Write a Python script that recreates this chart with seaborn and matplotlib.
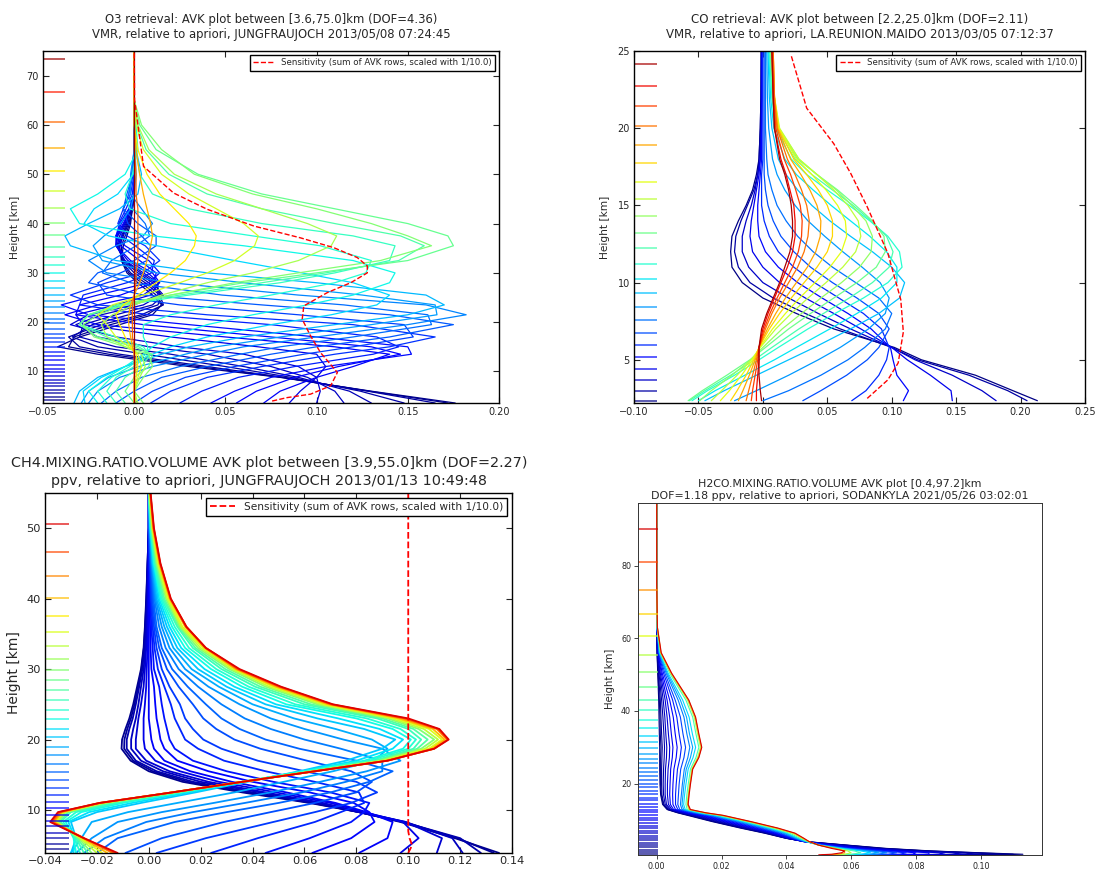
import matplotlib
matplotlib.use("Agg")
import matplotlib.pyplot as plt
import pandas as pd
import seaborn as sns

# ---------------- O3 (Jungfraujoch) ----------------
o3_levels = [4.2, 4.9, 5.6, 6.3, 7.0, 7.6, 8.3, 9.0, 9.8, 10.6, 11.4, 12.3, 13.2, 14.0,
             14.9, 15.9, 16.8, 17.7, 18.7, 19.8, 20.7, 21.9, 23.0, 24.3, 25.6, 26.9,
             28.3, 29.9, 31.6, 33.3, 35.3, 37.6, 40.1, 43.2, 46.7, 50.7, 55.3, 60.6,
             66.6, 73.3]
o3_grid = [3.6, 6, 8.8, 11, 13.5, 15, 17, 19.5, 21.5, 23.5, 25.5, 28, 30, 32.5,
           35.5, 37.5, 40, 43, 46, 50, 55, 60, 65, 75]
o3_row_levels = [4.2, 4.9, 5.6, 6.3, 7.0, 8.0, 9.0, 10.2, 11.4, 12.3, 13.2, 14.5, 15.9,
                 17.2, 18.7, 20.3, 21.9, 23.6, 25.6, 27.6, 29.9, 31.6, 33.3, 35.3, 37.6,
                 40.1, 43.2, 46.7, 50.7, 55.3, 60.6, 73.3]
o3_rows = [
    [0.176, 0.130, 0.080, 0.030, -0.020, -0.042, -0.030, -0.008, 0.010, 0.015, 0.010, 0.002, -0.004, -0.007, -0.006, -0.004, -0.002, -0.001, 0, 0, 0, 0, 0, 0],
    [0.172, 0.129, 0.081, 0.035, -0.014, -0.036, -0.033, -0.013, 0.007, 0.0155, 0.012, 0.004, -0.003, -0.007, -0.007, -0.005, -0.0025, -0.001, 0, 0, 0, 0, 0, 0],
    [0.165, 0.128, 0.082, 0.040, -0.008, -0.030, -0.036, -0.018, 0.004, 0.016, 0.014, 0.006, -0.002, -0.007, -0.008, -0.006, -0.003, -0.001, 0, 0, 0, 0, 0, 0],
    [0.148, 0.124, 0.086, 0.050, 0.006, -0.020, -0.034, -0.023, -0.003, 0.013, 0.015, 0.008, 0.0, -0.0065, -0.0085, -0.0065, -0.0035, -0.0015, 0, 0, 0, 0, 0, 0],
    [0.130, 0.118, 0.090, 0.060, 0.020, -0.010, -0.030, -0.028, -0.010, 0.010, 0.016, 0.010, 0.002, -0.006, -0.009, -0.007, -0.004, -0.002, 0, 0, 0, 0, 0, 0],
    [0.115, 0.110, 0.095, 0.075, 0.040, 0.008, -0.020, -0.032, -0.018, 0.005, 0.0145, 0.0115, 0.0035, -0.0055, -0.0095, -0.008, -0.0045, -0.002, 0, 0, 0, 0, 0, 0],
    [0.100, 0.102, 0.100, 0.090, 0.060, 0.025, -0.010, -0.035, -0.025, 0.000, 0.013, 0.013, 0.005, -0.005, -0.010, -0.009, -0.005, -0.002, 0, 0, 0, 0, 0, 0],
    [0.085, 0.091, 0.100, 0.105, 0.100, 0.068, 0.020, -0.028, -0.032, -0.010, 0.009, 0.0135, 0.0075, -0.0035, -0.010, -0.0095, -0.0055, -0.002, 0, 0, 0, 0, 0, 0],
    [0.071, 0.080, 0.100, 0.120, 0.140, 0.110, 0.050, -0.020, -0.038, -0.020, 0.005, 0.014, 0.010, -0.002, -0.010, -0.010, -0.006, -0.002, 0, 0, 0, 0, 0, 0],
    [0.056, 0.067, 0.088, 0.112, 0.146, 0.130, 0.075, 0.005, -0.032, -0.030, -0.0075, 0.011, 0.012, 0.003, -0.0075, -0.010, -0.007, -0.0025, 0, 0, 0, 0, 0, 0],
    [0.042, 0.055, 0.075, 0.105, 0.152, 0.150, 0.100, 0.030, -0.025, -0.040, -0.020, 0.008, 0.014, 0.008, -0.005, -0.010, -0.008, -0.003, 0, 0, 0, 0, 0, 0],
    [0.025, 0.037, 0.057, 0.088, 0.131, 0.145, 0.133, 0.075, 0.008, -0.030, -0.028, -0.004, 0.0095, 0.011, 0.0005, -0.007, -0.0085, -0.0045, -0.001, 0, 0, 0, 0, 0],
    [0.009, 0.020, 0.040, 0.070, 0.110, 0.140, 0.165, 0.120, 0.040, -0.020, -0.035, -0.015, 0.005, 0.014, 0.006, -0.004, -0.009, -0.006, -0.002, 0, 0, 0, 0, 0],
    [0.000, 0.010, 0.028, 0.055, 0.093, 0.120, 0.153, 0.148, 0.090, 0.025, -0.015, -0.020, -0.0075, 0.007, 0.009, 0.004, -0.0035, -0.006, -0.003, -0.0005, 0, 0, 0, 0],
    [-0.010, 0.000, 0.015, 0.040, 0.075, 0.100, 0.140, 0.175, 0.140, 0.070, 0.005, -0.025, -0.020, 0.000, 0.012, 0.012, 0.002, -0.006, -0.004, -0.001, 0, 0, 0, 0],
    [-0.018, -0.010, 0.004, 0.025, 0.058, 0.080, 0.120, 0.163, 0.161, 0.115, 0.048, -0.002, -0.0175, -0.0125, 0.001, 0.0085, 0.006, -0.001, -0.003, -0.0015, 0, 0, 0, 0],
    [-0.025, -0.020, -0.008, 0.010, 0.040, 0.060, 0.100, 0.150, 0.182, 0.160, 0.090, 0.020, -0.015, -0.025, -0.010, 0.005, 0.010, 0.004, -0.002, -0.002, 0, 0, 0, 0],
    [-0.029, -0.025, -0.014, 0.0025, 0.028, 0.045, 0.080, 0.130, 0.166, 0.165, 0.125, 0.060, 0.0125, -0.0175, -0.0225, -0.0165, -0.0075, -0.002, 0.0, 0.001, 0.0005, 0, 0, 0],
    [-0.033, -0.030, -0.020, -0.005, 0.015, 0.030, 0.060, 0.110, 0.150, 0.170, 0.160, 0.100, 0.040, -0.010, -0.035, -0.038, -0.025, -0.008, 0.002, 0.004, 0.001, 0, 0, 0],
    [-0.027, -0.028, -0.018, -0.005, 0.010, 0.020, 0.040, 0.075, 0.108, 0.133, 0.140, 0.120, 0.092, 0.055, 0.0125, -0.014, -0.0275, -0.022, -0.009, -0.0005, 0.0015, 0.0005, 0, 0],
    [-0.020, -0.025, -0.015, -0.005, 0.005, 0.010, 0.020, 0.040, 0.065, 0.095, 0.120, 0.140, 0.143, 0.120, 0.060, 0.010, -0.030, -0.035, -0.020, -0.005, 0.002, 0.001, 0, 0],
    [-0.015, -0.020, -0.0125, -0.0025, 0.0065, 0.0075, 0.005, 0.005, 0.020, 0.045, 0.075, 0.110, 0.127, 0.130, 0.102, 0.065, 0.020, -0.0025, -0.005, -0.001, 0.0015, 0.0005, 0, 0],
    [-0.010, -0.015, -0.010, 0.000, 0.008, 0.005, -0.010, -0.030, -0.025, -0.005, 0.030, 0.080, 0.110, 0.140, 0.143, 0.120, 0.070, 0.030, 0.010, 0.003, 0.001, 0, 0, 0],
    [-0.005, -0.010, -0.005, 0.004, 0.009, 0.0025, -0.015, -0.030, -0.025, -0.0075, 0.025, 0.070, 0.105, 0.145, 0.159, 0.146, 0.110, 0.070, 0.040, 0.019, 0.0065, 0.0015, 0, 0],
    [0.000, -0.005, 0.000, 0.008, 0.010, 0.000, -0.020, -0.030, -0.025, -0.010, 0.020, 0.060, 0.100, 0.150, 0.175, 0.172, 0.150, 0.110, 0.070, 0.035, 0.012, 0.003, 0, 0],
    [0.005, 0.000, 0.005, 0.010, 0.008, -0.005, -0.022, -0.028, -0.020, -0.005, 0.020, 0.055, 0.090, 0.135, 0.163, 0.150, 0.130, 0.100, 0.065, 0.033, 0.015, 0.004, 0, 0],
    [0.002, 0.000, 0.003, 0.006, 0.004, -0.005, -0.015, -0.018, -0.012, 0.000, 0.015, 0.040, 0.065, 0.090, 0.108, 0.111, 0.095, 0.070, 0.045, 0.022, 0.008, 0.002, 0, 0],
    [0.001, 0.000, 0.002, 0.004, 0.002, -0.003, -0.010, -0.015, -0.020, -0.012, 0.005, 0.025, 0.040, 0.055, 0.066, 0.068, 0.060, 0.045, 0.030, 0.015, 0.005, 0.001, 0, 0],
    [0, 0, 0.001, 0.002, 0.001, -0.002, -0.005, -0.008, -0.010, -0.006, 0.002, 0.012, 0.020, 0.028, 0.033, 0.034, 0.030, 0.022, 0.014, 0.007, 0.002, 0, 0, 0],
    [0, 0, 0, 0.001, 0, -0.001, -0.002, -0.003, -0.003, -0.002, 0, 0.003, 0.005, 0.007, 0.009, 0.010, 0.009, 0.007, 0.005, 0.003, 0.001, 0, 0, 0],
    [0, 0, 0, 0, 0, 0, -0.001, -0.001, -0.001, -0.001, 0, 0.001, 0.001, 0.002, 0.002, 0.002, 0.002, 0.002, 0.001, 0.001, 0, 0, 0, 0],
    [0] * 24,
]
o3_sens_h = [4.0, 4.7, 5.4, 7.1, 9.8, 13.8, 17.2, 20.6, 23.3, 26.0, 28.0, 30.0, 31.4,
             33.1, 35.1, 37.1, 39.5, 42.9, 46.2, 51.6, 65.1, 75.0]
o3_sens_x = [0.0756, 0.0839, 0.0967, 0.1077, 0.1114, 0.1022, 0.0967, 0.0921, 0.093,
             0.1059, 0.1187, 0.1278, 0.1278, 0.1223, 0.1095, 0.0912, 0.0656, 0.040,
             0.0216, 0.0051, 0.0002, 0.0]

# ---------------- CO (La Reunion Maido) ----------------
co_levels = [2.35, 2.98, 3.71, 4.38, 5.20, 5.98, 6.75, 7.57, 8.45, 9.34, 10.26, 11.21,
             12.23, 13.24, 14.30, 15.39, 16.53, 17.72, 18.92, 20.15, 21.43, 22.76, 24.14]
co_grid = [2.35, 3, 4, 5, 5.8, 7, 8, 9, 10, 11, 12, 13, 14, 15, 16, 17, 18, 20, 22, 25]
co_row_levels = co_levels
co_rows = [
    [0.213, 0.194, 0.165, 0.123, 0.102, 0.055, 0.026, 0.000, -0.016, -0.024, -0.025, -0.024, -0.019, -0.013, -0.008, -0.005, -0.003, -0.002, -0.0015, -0.0013],
    [0.205, 0.190, 0.160, 0.120, 0.100, 0.060, 0.033, 0.008, -0.010, -0.019, -0.022, -0.021, -0.017, -0.012, -0.007, -0.004, -0.003, -0.002, -0.0015, -0.0013],
    [0.181, 0.170, 0.147, 0.118, 0.100, 0.068, 0.043, 0.020, 0.000, -0.011, -0.016, -0.016, -0.013, -0.009, -0.006, -0.004, -0.002, -0.0015, -0.001, -0.001],
    [0.147, 0.146, 0.130, 0.112, 0.100, 0.076, 0.055, 0.033, 0.013, 0.000, -0.008, -0.010, -0.009, -0.007, -0.005, -0.003, -0.002, -0.001, -0.001, -0.001],
    [0.109, 0.113, 0.104, 0.101, 0.099, 0.084, 0.066, 0.046, 0.027, 0.012, 0.002, -0.003, -0.004, -0.004, -0.003, -0.002, -0.001, -0.001, -0.0005, -0.0005],
    [0.069, 0.080, 0.090, 0.096, 0.098, 0.092, 0.078, 0.059, 0.040, 0.024, 0.012, 0.005, 0.001, -0.001, -0.001, -0.001, 0.0, 0.0, 0.0, 0.0],
    [0.031, 0.045, 0.065, 0.081, 0.090, 0.098, 0.090, 0.073, 0.054, 0.037, 0.024, 0.014, 0.008, 0.004, 0.002, 0.001, 0.001, 0.001, 0.001, 0.001],
    [0.000, 0.020, 0.045, 0.066, 0.079, 0.095, 0.100, 0.090, 0.072, 0.054, 0.039, 0.027, 0.018, 0.011, 0.007, 0.004, 0.003, 0.002, 0.002, 0.002],
    [-0.022, -0.005, 0.020, 0.043, 0.060, 0.082, 0.095, 0.098, 0.091, 0.077, 0.062, 0.048, 0.035, 0.025, 0.017, 0.011, 0.0075, 0.0045, 0.0035, 0.003],
    [-0.045, -0.030, -0.005, 0.020, 0.040, 0.068, 0.090, 0.106, 0.110, 0.100, 0.085, 0.068, 0.052, 0.038, 0.027, 0.018, 0.012, 0.007, 0.005, 0.004],
    [-0.050, -0.037, -0.014, 0.009, 0.026, 0.052, 0.073, 0.092, 0.104, 0.104, 0.096, 0.083, 0.068, 0.053, 0.039, 0.026, 0.017, 0.0085, 0.006, 0.0045],
    [-0.055, -0.043, -0.022, -0.003, 0.012, 0.035, 0.056, 0.078, 0.097, 0.108, 0.106, 0.097, 0.083, 0.067, 0.050, 0.034, 0.022, 0.010, 0.007, 0.005],
    [-0.057, -0.045, -0.025, -0.0065, 0.007, 0.028, 0.047, 0.067, 0.085, 0.098, 0.101, 0.096, 0.084, 0.070, 0.054, 0.038, 0.025, 0.011, 0.0075, 0.0055],
    [-0.058, -0.047, -0.028, -0.010, 0.002, 0.020, 0.037, 0.055, 0.073, 0.088, 0.095, 0.094, 0.085, 0.072, 0.058, 0.042, 0.027, 0.012, 0.008, 0.006],
    [-0.049, -0.040, -0.024, -0.0095, 0.0, 0.015, 0.030, 0.045, 0.061, 0.075, 0.084, 0.085, 0.080, 0.069, 0.057, 0.042, 0.028, 0.0125, 0.0085, 0.0065],
    [-0.040, -0.032, -0.020, -0.009, -0.002, 0.010, 0.022, 0.035, 0.049, 0.062, 0.072, 0.076, 0.074, 0.066, 0.055, 0.042, 0.028, 0.013, 0.009, 0.007],
    [-0.033, -0.026, -0.0165, -0.008, -0.0025, 0.0075, 0.0175, 0.0285, 0.0405, 0.052, 0.061, 0.065, 0.064, 0.058, 0.049, 0.038, 0.026, 0.0125, 0.009, 0.0075],
    [-0.025, -0.020, -0.013, -0.007, -0.003, 0.005, 0.013, 0.022, 0.032, 0.042, 0.050, 0.054, 0.054, 0.050, 0.043, 0.034, 0.024, 0.012, 0.009, 0.008],
    [-0.019, -0.0155, -0.0105, -0.006, -0.003, 0.0035, 0.010, 0.0175, 0.026, 0.0345, 0.041, 0.0445, 0.045, 0.042, 0.0365, 0.0295, 0.0215, 0.0115, 0.009, 0.008],
    [-0.013, -0.011, -0.008, -0.005, -0.003, 0.002, 0.007, 0.013, 0.020, 0.027, 0.032, 0.035, 0.036, 0.034, 0.030, 0.025, 0.019, 0.011, 0.009, 0.008],
    [-0.009, -0.008, -0.006, -0.004, -0.003, 0.001, 0.0055, 0.011, 0.017, 0.023, 0.0275, 0.030, 0.0305, 0.029, 0.0255, 0.0215, 0.0165, 0.010, 0.0085, 0.0075],
    [-0.005, -0.005, -0.004, -0.003, -0.003, 0.000, 0.004, 0.009, 0.014, 0.019, 0.023, 0.025, 0.025, 0.024, 0.021, 0.018, 0.014, 0.009, 0.008, 0.007],
    [-0.001, -0.002, -0.003, -0.003, -0.003, -0.001, 0.003, 0.008, 0.013, 0.017, 0.021, 0.023, 0.023, 0.022, 0.020, 0.017, 0.013, 0.009, 0.008, 0.007],
]
co_sens_h = [2.5, 3.7, 4.8, 6.8, 8.9, 11.9, 14.9, 17.1, 19.0, 21.3, 24.7]
co_sens_x = [0.081, 0.097, 0.105, 0.109, 0.107, 0.097, 0.081, 0.068, 0.055, 0.034, 0.022]

# ---------------- CH4 (Jungfraujoch) ----------------
ch4_levels = [4.5, 5.2, 6.0, 6.8, 7.66, 8.5, 9.35, 10.3, 11.2, 12.15, 13.1, 14.25, 15.4,
              16.55, 17.8, 19.0, 20.3, 21.55, 22.9, 24.2, 25.6, 27.0, 28.4, 29.9, 31.5,
              33.25, 35.3, 37.5, 40.1, 43.2, 46.6, 50.65]
ch4_grid = [3.9, 6, 8.3, 9.7, 11, 12.5, 14, 15.5, 17, 18.7, 20, 21.5, 23, 25, 27.5,
            30, 33, 36, 40, 45, 50, 55]
ch4_row_levels = [4.5, 5.2, 6.0, 6.8, 7.66, 8.5, 9.35, 10.3, 11.2, 12.15, 13.1, 14.25,
                  15.4, 16.55, 17.8, 19.0, 20.3, 21.55, 22.9, 24.2, 25.6, 27.0, 29.9,
                  33.25, 35.3, 40.1, 43.2, 46.6, 50.65]
ch4_rows = [
    [0.135, 0.118, 0.097, 0.081, 0.062, 0.036, 0.013, 0.000, -0.007, -0.0105, -0.0103, -0.009, -0.0075, -0.006, -0.0045, -0.003, -0.002, -0.0015, -0.001, -0.0005, 0.0, 0.0],
    [0.133, 0.119, 0.098, 0.081, 0.063, 0.038, 0.015, 0.0015, -0.006, -0.0095, -0.0094, -0.0083, -0.0069, -0.0055, -0.0041, -0.0028, -0.0019, -0.0014, -0.0009, -0.0005, 0.0, 0.0],
    [0.128, 0.120, 0.098, 0.081, 0.064, 0.040, 0.017, 0.003, -0.005, -0.0085, -0.0085, -0.0075, -0.0062, -0.005, -0.0037, -0.0025, -0.0017, -0.0012, -0.0008, -0.0004, 0.0, 0.0],
    [0.121, 0.117, 0.099, 0.081, 0.066, 0.043, 0.020, 0.0055, -0.003, -0.0068, -0.0068, -0.006, -0.005, -0.004, -0.003, -0.002, -0.0013, -0.001, -0.0006, -0.0003, 0.0, 0.0],
    [0.111, 0.113, 0.099, 0.082, 0.067, 0.045, 0.023, 0.008, -0.001, -0.005, -0.005, -0.0045, -0.004, -0.003, -0.002, -0.0015, -0.001, -0.0007, -0.0004, -0.0002, 0.0, 0.0],
    [0.097, 0.104, 0.098, 0.083, 0.070, 0.049, 0.027, 0.012, 0.0025, -0.0015, -0.002, -0.002, -0.002, -0.0015, -0.001, -0.0008, -0.0005, -0.0003, -0.0002, -0.0001, 0.0, 0.0],
    [0.081, 0.092, 0.094, 0.084, 0.072, 0.053, 0.032, 0.016, 0.006, 0.002, 0.001, 0.0005, 0.0, 0.0, 0.0, 0.0, 0.0, 0.0, 0.0, 0.0, 0.0, 0.0],
    [0.063, 0.078, 0.087, 0.085, 0.079, 0.062, 0.040, 0.023, 0.011, 0.006, 0.0045, 0.0038, 0.003, 0.0025, 0.002, 0.001, 0.0007, 0.0005, 0.0002, 0.0001, 0.0, 0.0],
    [0.045, 0.062, 0.078, 0.083, 0.085, 0.070, 0.048, 0.030, 0.017, 0.010, 0.008, 0.007, 0.006, 0.005, 0.004, 0.002, 0.0015, 0.001, 0.0005, 0.0002, 0.0, 0.0],
    [0.024, 0.042, 0.064, 0.074, 0.083, 0.081, 0.064, 0.045, 0.029, 0.019, 0.014, 0.012, 0.010, 0.0085, 0.006, 0.0035, 0.0022, 0.0015, 0.0008, 0.0003, 0.0, 0.0],
    [0.003, 0.022, 0.048, 0.064, 0.078, 0.088, 0.080, 0.060, 0.042, 0.028, 0.021, 0.017, 0.014, 0.012, 0.008, 0.005, 0.003, 0.002, 0.001, 0.0005, 0.0001, 0.0],
    [-0.009, 0.005, 0.029, 0.047, 0.064, 0.080, 0.086, 0.078, 0.061, 0.043, 0.033, 0.026, 0.021, 0.017, 0.0115, 0.007, 0.004, 0.0025, 0.0014, 0.0006, 0.0001, 0.0],
    [-0.020, -0.012, 0.010, 0.030, 0.050, 0.070, 0.085, 0.094, 0.080, 0.058, 0.045, 0.035, 0.028, 0.022, 0.015, 0.009, 0.005, 0.003, 0.0018, 0.0008, 0.0002, 0.0],
    [-0.025, -0.017, -0.001, 0.017, 0.037, 0.059, 0.076, 0.090, 0.090, 0.074, 0.060, 0.047, 0.037, 0.028, 0.019, 0.0115, 0.0065, 0.004, 0.0022, 0.001, 0.0003, 0.0],
    [-0.028, -0.022, -0.012, 0.005, 0.025, 0.047, 0.066, 0.084, 0.097, 0.090, 0.075, 0.060, 0.047, 0.035, 0.023, 0.014, 0.008, 0.005, 0.0026, 0.0012, 0.0004, 0.0],
    [-0.030, -0.026, -0.022, -0.008, 0.011, 0.033, 0.052, 0.071, 0.087, 0.092, 0.086, 0.072, 0.056, 0.040, 0.027, 0.0165, 0.0095, 0.006, 0.003, 0.0014, 0.0005, 0.0],
    [-0.030, -0.028, -0.030, -0.020, -0.003, 0.018, 0.038, 0.058, 0.076, 0.090, 0.095, 0.083, 0.065, 0.045, 0.030, 0.019, 0.011, 0.007, 0.0035, 0.0015, 0.0005, 0.0],
    [-0.029, -0.0285, -0.031, -0.023, -0.0065, 0.0155, 0.037, 0.059, 0.080, 0.094, 0.098, 0.089, 0.073, 0.049, 0.033, 0.0215, 0.0125, 0.008, 0.004, 0.0018, 0.0006, 0.0],
    [-0.028, -0.029, -0.032, -0.026, -0.010, 0.013, 0.036, 0.060, 0.083, 0.098, 0.101, 0.094, 0.080, 0.053, 0.036, 0.024, 0.014, 0.009, 0.0045, 0.002, 0.0007, 0.0],
    [-0.0265, -0.0285, -0.033, -0.028, -0.012, 0.012, 0.036, 0.061, 0.085, 0.100, 0.103, 0.097, 0.084, 0.0565, 0.0385, 0.026, 0.0155, 0.010, 0.005, 0.0022, 0.0008, 0.0],
    [-0.025, -0.028, -0.034, -0.030, -0.014, 0.011, 0.036, 0.062, 0.087, 0.102, 0.105, 0.100, 0.088, 0.060, 0.041, 0.028, 0.017, 0.011, 0.0055, 0.0025, 0.0009, 0.0001],
    [-0.0235, -0.0275, -0.0345, -0.031, -0.0155, 0.0105, 0.036, 0.0625, 0.088, 0.1035, 0.1075, 0.102, 0.090, 0.0625, 0.043, 0.0295, 0.018, 0.0115, 0.006, 0.0028, 0.001, 0.0001],
    [-0.022, -0.027, -0.035, -0.032, -0.017, 0.010, 0.036, 0.063, 0.089, 0.105, 0.110, 0.104, 0.092, 0.065, 0.045, 0.031, 0.019, 0.012, 0.0066, 0.003, 0.0012, 0.0002],
    [-0.020, -0.0265, -0.0355, -0.0325, -0.0175, 0.0095, 0.036, 0.0635, 0.090, 0.1065, 0.1115, 0.106, 0.0935, 0.0665, 0.0465, 0.032, 0.020, 0.0125, 0.0071, 0.0034, 0.0013, 0.0003],
    [-0.018, -0.026, -0.036, -0.033, -0.018, 0.009, 0.036, 0.064, 0.091, 0.108, 0.113, 0.108, 0.095, 0.068, 0.048, 0.033, 0.021, 0.013, 0.0076, 0.0038, 0.0015, 0.0004],
    [-0.016, -0.0255, -0.0365, -0.0335, -0.0185, 0.009, 0.036, 0.064, 0.0915, 0.109, 0.114, 0.1095, 0.0965, 0.069, 0.049, 0.0335, 0.0215, 0.014, 0.008, 0.004, 0.0016, 0.0005],
    [-0.014, -0.025, -0.037, -0.034, -0.019, 0.009, 0.036, 0.064, 0.092, 0.110, 0.115, 0.111, 0.098, 0.070, 0.050, 0.034, 0.022, 0.0145, 0.0083, 0.0043, 0.0018, 0.0006],
    [-0.013, -0.025, -0.0375, -0.0345, -0.019, 0.009, 0.036, 0.064, 0.092, 0.110, 0.1153, 0.1115, 0.099, 0.0705, 0.0505, 0.0345, 0.022, 0.0145, 0.0084, 0.0044, 0.0019, 0.0006],
    [-0.012, -0.025, -0.038, -0.035, -0.019, 0.009, 0.036, 0.064, 0.092, 0.110, 0.1156, 0.112, 0.100, 0.071, 0.051, 0.035, 0.022, 0.0145, 0.0085, 0.0045, 0.002, 0.0007],
]
ch4_sens_h = [3.9, 5.0, 6.0, 7.0, 55.0]
ch4_sens_x = [0.100, 0.1015, 0.1005, 0.100, 0.100]

# ---------------- H2CO (Sodankyla) ----------------
h2co_levels = [0.6, 1.2, 1.9, 2.5, 3.1, 3.8, 4.4, 5.1, 5.7, 6.4, 7.0, 7.7, 8.4, 9.2, 9.9,
               10.6, 11.4, 12.1, 12.9, 13.7, 14.5, 15.4, 16.2, 17.1, 18.1, 19.0, 20.0,
               21.0, 22.1, 23.2, 24.4, 25.6, 26.9, 28.3, 29.8, 31.4, 33.2, 35.4, 37.6,
               40.2, 43.1, 46.7, 50.6, 55.3, 60.6, 66.6, 73.4, 81.1, 90.0]
h2co_grid = [0.45, 0.6, 1.0, 1.5, 2.2, 3.1, 4.1, 5.0, 6.4, 7.8, 9.6, 11.3, 12.0, 12.9,
             14.3, 17.0, 19.8, 24.0, 27.2, 30.0, 33.7, 38.3, 43.0, 50.4, 56.0, 63.0,
             75.0, 90.0, 97.2]
h2co_row_levels = [0.6, 1.2, 2.5, 4.4, 5.7, 7.7, 9.9, 12.1, 15.4, 19.0, 24.4, 28.3,
                   33.2, 43.1, 55.3, 73.4, 90.0]
h2co_rows = [
    [0.105, 0.113, 0.100, 0.085, 0.071, 0.059, 0.0460, 0.0398, 0.0332, 0.0258, 0.0170, 0.0095, 0.0064, 0.0032, 0.0018, 0.0012, 0.0010, 0.0009, 0.0009, 0.0009, 0.0008, 0.0007, 0.0006, 0.0003, 0.0001, 0, 0, 0, 0],
    [0.099, 0.110, 0.099, 0.084, 0.070, 0.0585, 0.0457, 0.0399, 0.0336, 0.0263, 0.0175, 0.0100, 0.0067, 0.0034, 0.0020, 0.0014, 0.0012, 0.0012, 0.0012, 0.0013, 0.0011, 0.0010, 0.0008, 0.0004, 0.0001, 0, 0, 0, 0],
    [0.092, 0.106, 0.097, 0.083, 0.069, 0.058, 0.0455, 0.0400, 0.0340, 0.0268, 0.0180, 0.0104, 0.0070, 0.0036, 0.0022, 0.0016, 0.0015, 0.0015, 0.0016, 0.0017, 0.0015, 0.0013, 0.0011, 0.0005, 0.0002, 0, 0, 0, 0],
    [0.085, 0.100, 0.094, 0.081, 0.0675, 0.057, 0.0453, 0.0402, 0.0345, 0.0275, 0.0188, 0.0110, 0.0074, 0.0040, 0.0026, 0.0021, 0.0020, 0.0021, 0.0023, 0.0024, 0.0022, 0.0019, 0.0015, 0.0007, 0.0002, 0, 0, 0, 0],
    [0.078, 0.095, 0.091, 0.079, 0.066, 0.056, 0.0452, 0.0405, 0.0350, 0.0282, 0.0197, 0.0117, 0.0079, 0.0043, 0.0030, 0.0026, 0.0026, 0.0027, 0.0030, 0.0031, 0.0028, 0.0025, 0.0020, 0.0009, 0.0003, 0, 0, 0, 0],
    [0.073, 0.089, 0.087, 0.077, 0.0645, 0.055, 0.0452, 0.0408, 0.0356, 0.0290, 0.0206, 0.0125, 0.0084, 0.0047, 0.0036, 0.0033, 0.0033, 0.0035, 0.0039, 0.0040, 0.0036, 0.0032, 0.0026, 0.0011, 0.0003, 0, 0, 0, 0],
    [0.068, 0.084, 0.084, 0.075, 0.063, 0.054, 0.0453, 0.0412, 0.0362, 0.0298, 0.0215, 0.0133, 0.0090, 0.0052, 0.0042, 0.0040, 0.0041, 0.0043, 0.0048, 0.0050, 0.0045, 0.0040, 0.0032, 0.0014, 0.0004, 0.0001, 0, 0, 0],
    [0.065, 0.079, 0.080, 0.0725, 0.0615, 0.053, 0.0454, 0.0416, 0.0368, 0.0306, 0.0224, 0.0141, 0.0097, 0.0058, 0.0050, 0.0049, 0.0050, 0.0053, 0.0060, 0.0063, 0.0057, 0.0051, 0.0040, 0.0017, 0.0005, 0.0001, 0, 0, 0],
    [0.062, 0.075, 0.077, 0.070, 0.060, 0.052, 0.0455, 0.0420, 0.0375, 0.0315, 0.0234, 0.0150, 0.0105, 0.0065, 0.0058, 0.0058, 0.0060, 0.0064, 0.0072, 0.0076, 0.0069, 0.0062, 0.0049, 0.0021, 0.0006, 0.0001, 0, 0, 0],
    [0.060, 0.0715, 0.074, 0.068, 0.059, 0.0515, 0.0456, 0.0424, 0.0382, 0.0323, 0.0243, 0.0158, 0.0112, 0.0071, 0.0065, 0.0067, 0.0069, 0.0074, 0.0084, 0.0089, 0.0081, 0.0073, 0.0057, 0.0025, 0.0007, 0.0001, 0, 0, 0],
    [0.058, 0.068, 0.071, 0.066, 0.058, 0.051, 0.0458, 0.0428, 0.0390, 0.0332, 0.0252, 0.0167, 0.0120, 0.0078, 0.0073, 0.0076, 0.0079, 0.0085, 0.0096, 0.0102, 0.0093, 0.0084, 0.0066, 0.0029, 0.0008, 0.0001, 0, 0, 0],
    [0.0565, 0.0655, 0.0685, 0.0645, 0.0575, 0.0505, 0.0460, 0.0432, 0.0396, 0.0339, 0.0259, 0.0173, 0.0126, 0.0083, 0.0078, 0.0081, 0.0084, 0.0091, 0.0104, 0.0111, 0.0101, 0.0092, 0.0073, 0.0032, 0.0008, 0.0001, 0, 0, 0],
    [0.055, 0.063, 0.066, 0.063, 0.057, 0.050, 0.0462, 0.0436, 0.0402, 0.0346, 0.0266, 0.0180, 0.0132, 0.0088, 0.0083, 0.0086, 0.0090, 0.0097, 0.0112, 0.0120, 0.0110, 0.0100, 0.0080, 0.0035, 0.0009, 0.0001, 0, 0, 0],
    [0.053, 0.060, 0.063, 0.061, 0.056, 0.050, 0.0465, 0.0442, 0.0410, 0.0355, 0.0275, 0.0190, 0.0140, 0.0094, 0.0090, 0.0093, 0.0097, 0.0104, 0.0121, 0.0130, 0.0121, 0.0111, 0.0090, 0.0040, 0.0011, 0.0001, 0, 0, 0],
    [0.052, 0.058, 0.060, 0.059, 0.055, 0.050, 0.0468, 0.0448, 0.0418, 0.0364, 0.0282, 0.0197, 0.0146, 0.0099, 0.0094, 0.0097, 0.0101, 0.0108, 0.0126, 0.0135, 0.0126, 0.0116, 0.0095, 0.0043, 0.0012, 0.0002, 0, 0, 0],
    [0.051, 0.056, 0.058, 0.058, 0.055, 0.050, 0.0470, 0.0452, 0.0424, 0.0370, 0.0287, 0.0202, 0.0150, 0.0102, 0.0096, 0.0099, 0.0103, 0.0110, 0.0129, 0.0138, 0.0129, 0.0119, 0.0098, 0.0045, 0.0013, 0.0002, 0, 0, 0],
    [0.050, 0.054, 0.057, 0.058, 0.054, 0.050, 0.0470, 0.0454, 0.0427, 0.0374, 0.0290, 0.0205, 0.0152, 0.0104, 0.0097, 0.0100, 0.0104, 0.0111, 0.0130, 0.0139, 0.0130, 0.0120, 0.0099, 0.0046, 0.0014, 0.0002, 0, 0, 0],
]

SENS_LABEL = "Sensitivity (sum of AVK rows, scaled with 1/10.0)"

jet = plt.get_cmap("jet")
sns.set_style("ticks")
plt.rcParams["font.family"] = ["DejaVu Sans"]


def draw_rows(ax, grid, row_levels, rows, levels, hrange, mark_x, lw):
    lo, hi = hrange
    colour = lambda h: jet((h - lo) / (hi - lo))
    recs = []
    for lev, row in zip(row_levels, rows):
        for h, v in zip(grid, row):
            recs.append((f"{lev:06.2f}", h, v))
    df = pd.DataFrame(recs, columns=["level", "height", "avk"])
    pal = {f"{lev:06.2f}": colour(lev) for lev in row_levels}
    sns.lineplot(data=df, x="avk", y="height", hue="level", hue_order=list(pal),
                 palette=pal, estimator=None, sort=False, orient="y", legend=False,
                 lw=lw, ax=ax)
    ax.hlines(levels, mark_x[0], mark_x[1], colors=[colour(h) for h in levels],
              lw=1.4, alpha=0.65)


def classic(ax, fs):
    ax.tick_params(direction="in", top=True, right=True, length=4, width=0.8,
                   labelsize=fs, pad=3)
    for s in ax.spines.values():
        s.set_linewidth(1.0)
        s.set_color("black")


def sens_line(ax, xs, hs, fs, lw=1.0):
    sns.lineplot(x=xs, y=hs, sort=False, estimator=None, orient="y", color="red",
                 ls="--", lw=lw, label=SENS_LABEL, ax=ax)
    ax.legend(loc="upper right", fontsize=fs, fancybox=False, edgecolor="black",
              framealpha=1, borderaxespad=0.45, handlelength=2.4)
    ax.get_legend().get_frame().set_linewidth(1.0)


fig = plt.figure(figsize=(10.95, 8.71), dpi=100)

# O3
ax1 = fig.add_axes([0.0393, 0.5373, 0.4164, 0.4041])
draw_rows(ax1, o3_grid, o3_row_levels, o3_rows, o3_levels, (3.6, 75.0), (-0.05, -0.038), 0.9)
sens_line(ax1, o3_sens_x, o3_sens_h, 6.2)
ax1.set_xlim(-0.05, 0.20)
ax1.set_ylim(3.6, 75.0)
ax1.set_xticks([-0.05, 0.0, 0.05, 0.10, 0.15, 0.20])
ax1.set_yticks([10, 20, 30, 40, 50, 60, 70])
ax1.set_xlabel("")
ax1.set_ylabel("Height [km]", fontsize=7.6, labelpad=5)
ax1.set_title("O3 retrieval: AVK plot between [3.6,75.0]km (DOF=4.36)\n"
              "VMR, relative to apriori, JUNGFRAUJOCH 2013/05/08 07:24:45",
              fontsize=8.4, pad=9.5, linespacing=1.2)
classic(ax1, 7)

# CO
ax2 = fig.add_axes([0.579, 0.5373, 0.4119, 0.4041])
draw_rows(ax2, co_grid, co_row_levels, co_rows, co_levels, (2.2, 25.0), (-0.10, -0.0824), 0.9)
sens_line(ax2, co_sens_x, co_sens_h, 6.2)
ax2.set_xlim(-0.10, 0.25)
ax2.set_ylim(2.2, 25.0)
ax2.set_xticks([-0.10, -0.05, 0.0, 0.05, 0.10, 0.15, 0.20, 0.25])
ax2.set_yticks([5, 10, 15, 20, 25])
ax2.set_xlabel("")
ax2.set_ylabel("Height [km]", fontsize=7.6, labelpad=5)
ax2.set_title("CO retrieval: AVK plot between [2.2,25.0]km (DOF=2.11)\n"
              "VMR, relative to apriori, LA.REUNION.MAIDO 2013/03/05 07:12:37",
              fontsize=8.5, pad=9.5, linespacing=1.2)
classic(ax2, 7)

# CH4
ax3 = fig.add_axes([0.0411, 0.0207, 0.4265, 0.4133])
draw_rows(ax3, ch4_grid, ch4_row_levels, ch4_rows, ch4_levels, (3.9, 55.0), (-0.04, -0.0307), 1.3)
sens_line(ax3, ch4_sens_x, ch4_sens_h, 7.6, lw=1.3)
ax3.set_xlim(-0.04, 0.14)
ax3.set_ylim(3.9, 55.0)
ax3.set_xticks([-0.04, -0.02, 0.0, 0.02, 0.04, 0.06, 0.08, 0.10, 0.12, 0.14])
ax3.set_yticks([10, 20, 30, 40, 50])
ax3.set_xlabel("")
ax3.set_ylabel("Height [km]", fontsize=10, labelpad=4)
ax3.set_title("CH4.MIXING.RATIO.VOLUME AVK plot between [3.9,55.0]km (DOF=2.27)\n"
              "ppv, relative to apriori, JUNGFRAUJOCH 2013/01/13 10:49:48",
              fontsize=10.4, pad=6, linespacing=1.3, x=0.48)
classic(ax3, 8.2)
ax3.tick_params(axis="x", pad=2)

# H2CO
ax4 = fig.add_axes([0.5826, 0.0184, 0.369, 0.4041])
draw_rows(ax4, h2co_grid, h2co_row_levels, h2co_rows, h2co_levels, (0.4, 97.2), (-0.0058, 0.0005), 0.8)
ax4.set_xlim(-0.0058, 0.1189)
ax4.set_ylim(0.4, 97.2)
ax4.set_xticks([0.0, 0.02, 0.04, 0.06, 0.08, 0.10])
ax4.set_yticks([20, 40, 60, 80])
ax4.set_xlabel("")
ax4.set_ylabel("Height [km]", fontsize=7.3, labelpad=4)
ax4.set_title("H2CO.MIXING.RATIO.VOLUME AVK plot [0.4,97.2]km\n"
              "DOF=1.18 ppv, relative to apriori, SODANKYLA 2021/05/26 03:02:01",
              fontsize=7.9, pad=3)
ax4.tick_params(labelsize=5.8, length=3, width=0.6, pad=2)
for s in ax4.spines.values():
    s.set_linewidth(0.7)
    s.set_color("#333333")

fig.savefig("out.png", dpi=100)
